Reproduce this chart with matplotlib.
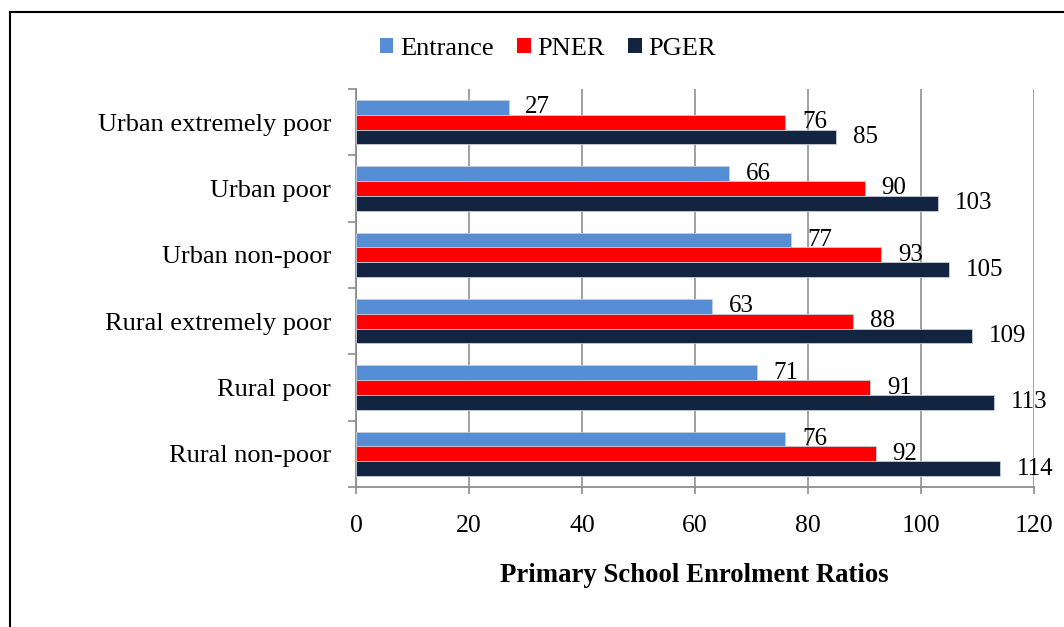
import matplotlib
matplotlib.use("Agg")
import matplotlib.pyplot as plt
from matplotlib.patches import Patch
from matplotlib.lines import Line2D
import numpy as np

plt.rcParams['font.family'] = ['Liberation Serif', 'DejaVu Serif']

categories = ["Urban extremely poor", "Urban poor", "Urban non-poor",
              "Rural extremely poor", "Rural poor", "Rural non-poor"]
series_names = ["Entrance", "PNER", "PGER"]
entrance = [27, 66, 77, 63, 71, 76]
pner = [76, 90, 93, 88, 91, 92]
pger = [85, 103, 105, 109, 113, 114]
x_ticks = [0, 20, 40, 60, 80, 100, 120]
x_label = "Primary School Enrolment Ratios"

colors = ["#558ED5", "#FF0000", "#12243F"]
series = [entrance, pner, pger]

W, H = 1064, 627
fig = plt.figure(figsize=(W / 100, H / 100), dpi=100)
ax = fig.add_axes([356 / W, 1 - 487 / H, (1034 - 356) / W, (487 - 89) / H])

y = np.arange(len(categories))
bh = 0.222
offsets = [-bh, 0, bh]
fs_val = 18
fs_cat = 19
fs_tick = 18.5

for vals, off, col in zip(series, offsets, colors):
    bars = ax.barh(y + off, vals, height=bh, color=col,
                   edgecolor="#C5CDDB", linewidth=0.6, zorder=3)
    for rect, v in zip(bars, vals):
        ax.annotate(f"{v}", xy=(rect.get_width(), rect.get_y() + rect.get_height() / 2),
                    xytext=(12, 0), textcoords="offset points",
                    ha="left", va="center", fontsize=fs_val, zorder=4)

ax.set_xlim(0, 120)
ax.set_ylim(len(categories) - 0.5, -0.5)

# x axis
ax.set_xticks(x_ticks)
ax.set_xticklabels([str(t) for t in x_ticks], fontsize=fs_tick)
ax.tick_params(axis="x", direction="out", length=5, width=1.2, color="#8C8C8C", pad=15)
ax.grid(axis="x", color="#9A9A9A", linewidth=1.3, zorder=0)

# y axis: boundary ticks plus category labels at the centres
ax.set_yticks(np.arange(-0.5, len(categories), 1.0))
ax.set_yticklabels([])
ax.tick_params(axis="y", which="major", direction="out", length=6, width=1.2, color="#8C8C8C")
ax.set_yticks(y, minor=True)
ax.set_yticklabels(categories, minor=True, fontsize=fs_cat)
ax.tick_params(axis="y", which="minor", length=0, pad=18)

for s in ["top", "right"]:
    ax.spines[s].set_visible(False)
for s in ["left", "bottom"]:
    ax.spines[s].set_color("#8C8C8C")
    ax.spines[s].set_linewidth(1.3)

fig.text(694 / W, 1 - 576 / H, x_label, ha="center", va="center",
         fontsize=19.3, fontweight="bold")

handles = [Patch(facecolor=c, edgecolor="none", label=n) for c, n in zip(colors, series_names)]
fig.legend(handles=handles, loc="center", bbox_to_anchor=(548 / W, 1 - 49 / H),
           ncol=3, frameon=False, fontsize=fs_cat, handlelength=0.5, handleheight=0.5,
           handletextpad=0.25, columnspacing=0.9)

# outer frame
fx, fy = 10 / W, 1 - 12 / H
fig.add_artist(Line2D([fx, fx], [0, fy], color="black", linewidth=1.5, transform=fig.transFigure))
fig.add_artist(Line2D([fx, 1], [fy, fy], color="black", linewidth=1.5, transform=fig.transFigure))

fig.savefig("out.png", dpi=100)
